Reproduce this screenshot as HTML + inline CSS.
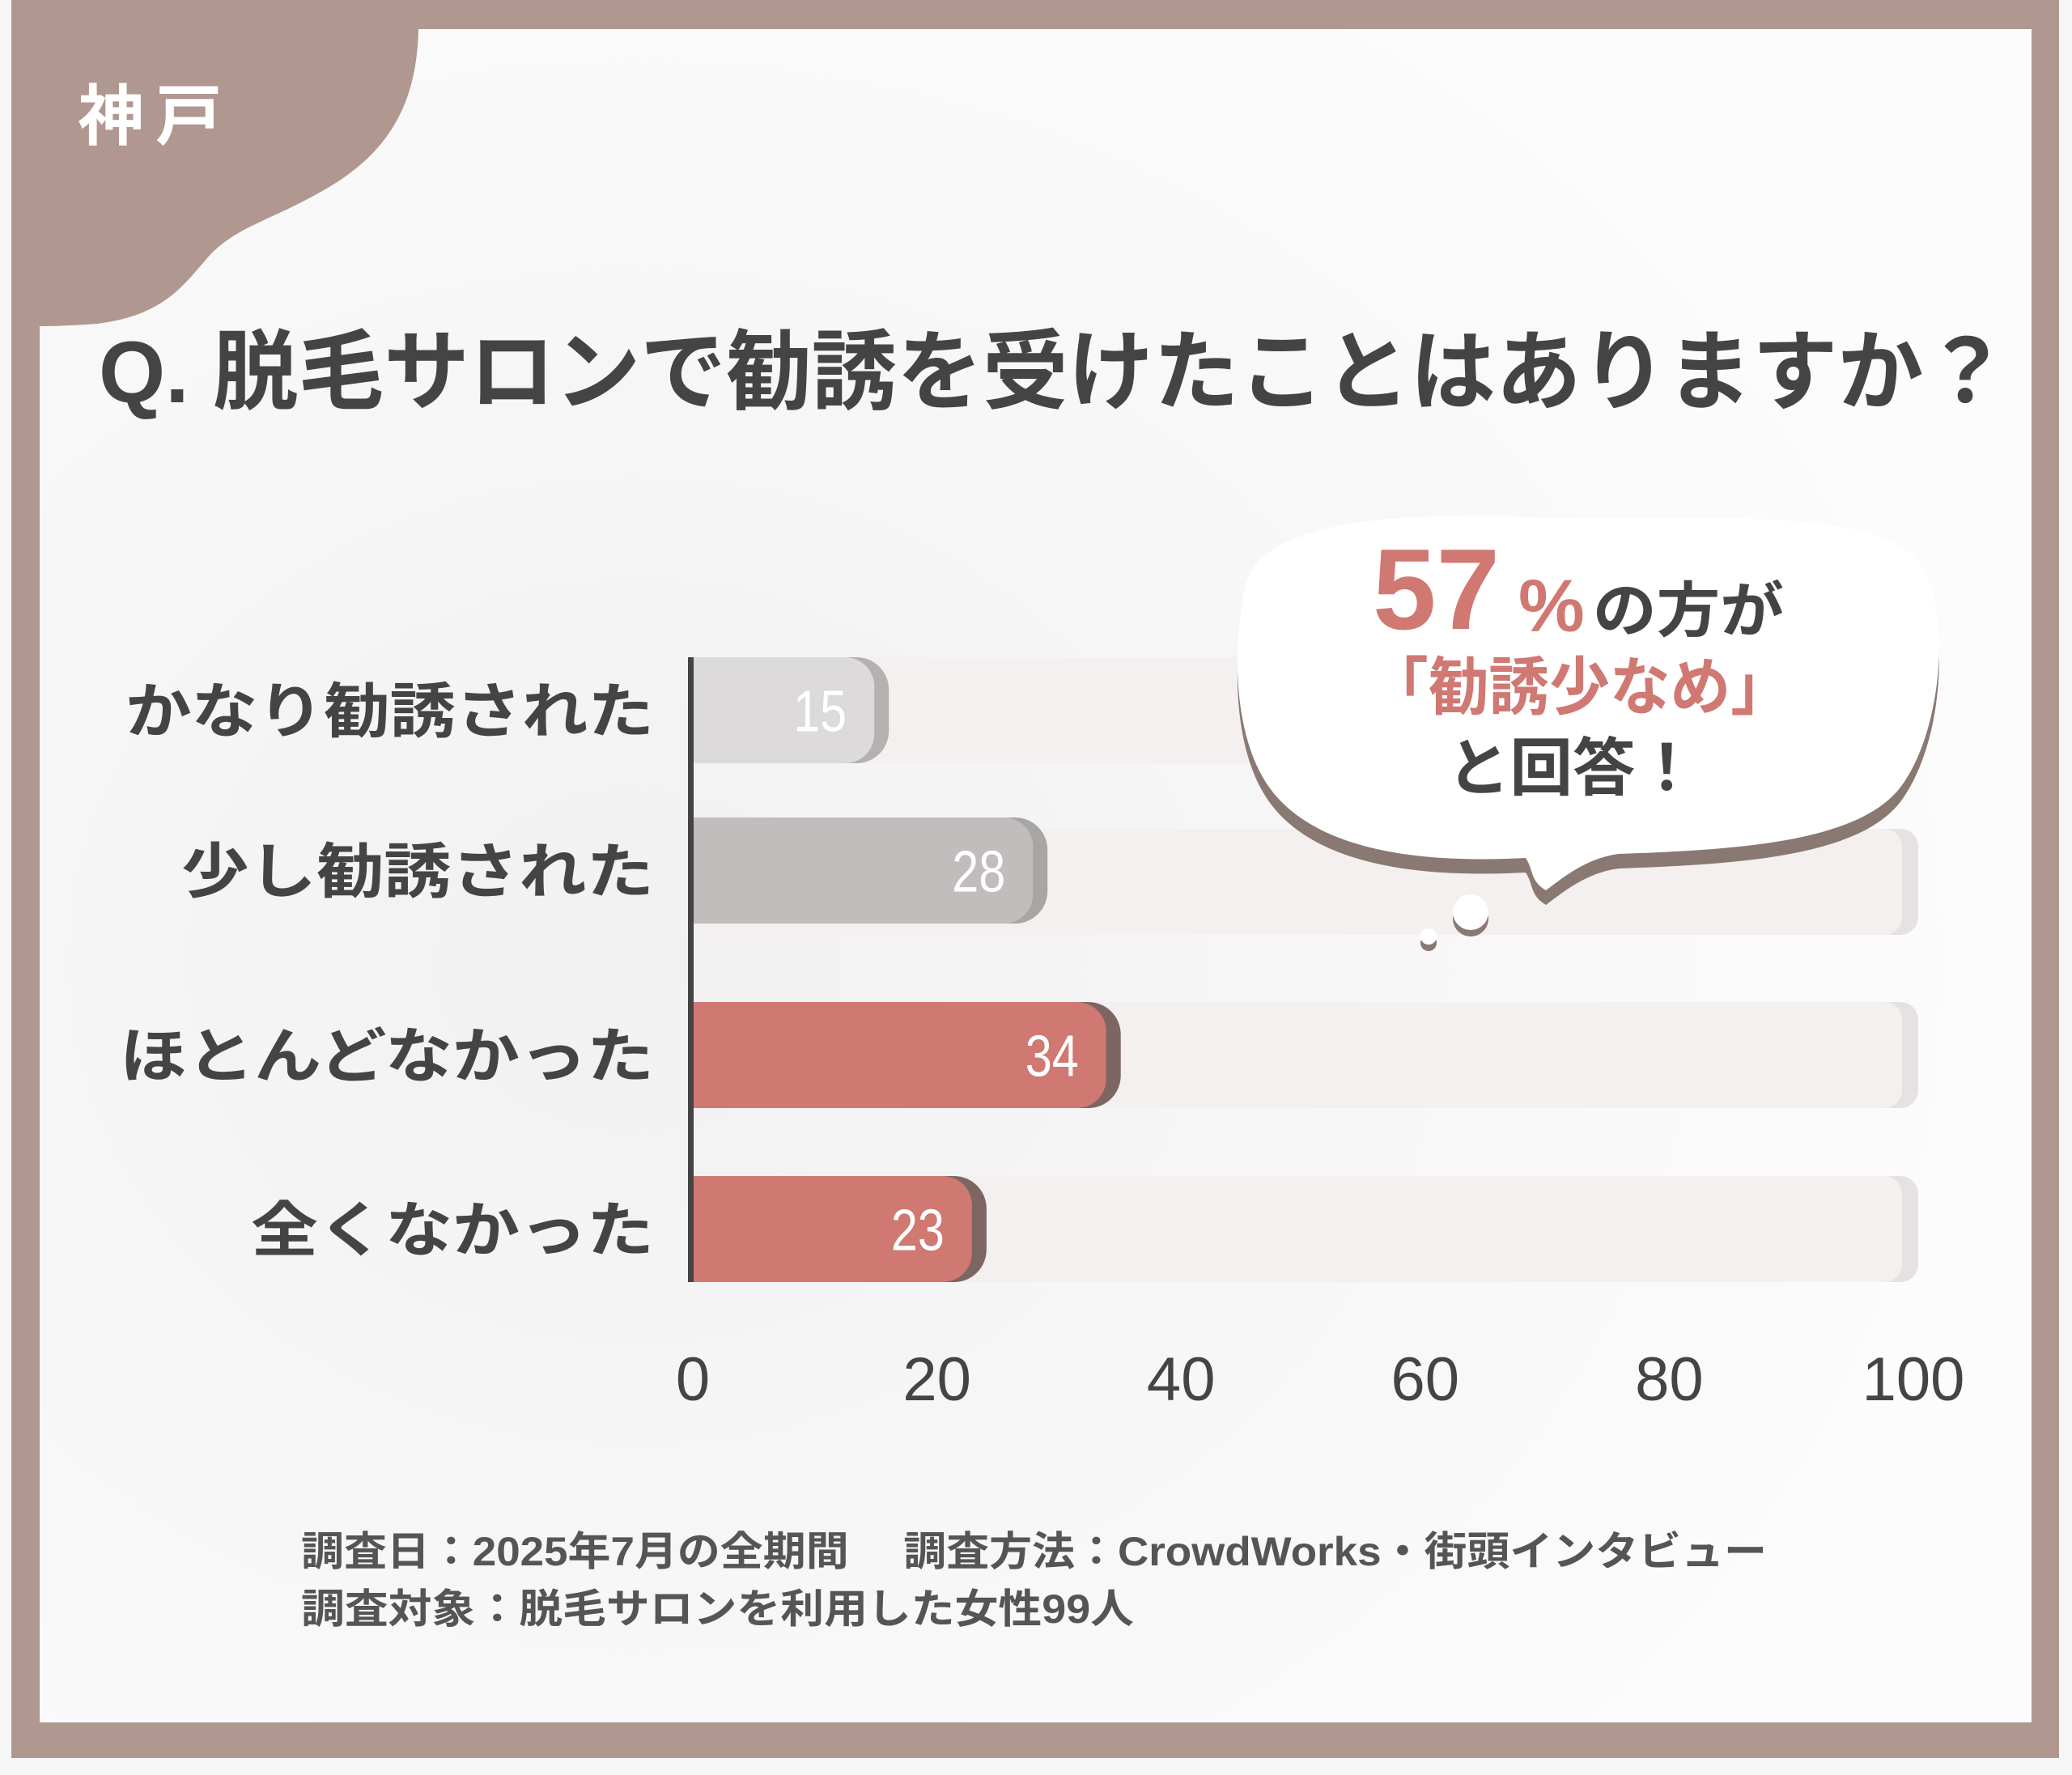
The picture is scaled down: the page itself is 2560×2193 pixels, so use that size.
<!DOCTYPE html>
<html><head><meta charset="utf-8">
<style>
html,body{margin:0;padding:0;background:#fff;}
svg{display:block;}
text{font-family:"Liberation Sans","Noto Sans CJK JP",sans-serif;}
</style></head>
<body>
<svg id="chart" width="2560" height="2193" viewBox="0 0 2560 2193" xmlns="http://www.w3.org/2000/svg">
  <defs>
    <radialGradient id="bgShade" cx="0.3" cy="0.55" r="0.7">
      <stop offset="0" stop-color="#f1f1f1"/>
      <stop offset="1" stop-color="#fcfcfc"/>
    </radialGradient>
  </defs>
  <rect x="0" y="0" width="2560" height="2193" fill="#f6f6f6"/>
  <rect x="14" y="0" width="2530" height="2172" fill="#b09890"/>
  <rect x="49" y="36" width="2461" height="2092" fill="url(#bgShade)"/>
  <path d="M49,36 H517 C515,140 470,195 400,235 C330,275 290,280 255,320 C225,355 200,390 120,400 C90,402 70,403 49,403 Z" fill="#b09890"/>
  <text x="96" y="172" font-size="82" font-weight="bold" fill="#ffffff" letter-spacing="14">神戸</text>
  <text x="122" y="497" font-size="108" font-weight="bold" fill="#444444" textLength="2360" lengthAdjust="spacingAndGlyphs">Q. 脱毛サロンで勧誘を受けたことはありますか？</text>

  <g id="tracks"></g>
  <g id="bars"></g>
  <g id="labels"></g>
  <g id="ticks"></g>
  <rect x="850" y="812" width="7" height="772" fill="#444444"/>

  <g>
    <path d="M1540,720 C1560,650 1700,630 1900,640 C2150,640 2330,630 2375,700 C2410,760 2400,900 2350,970 C2300,1040 2150,1050 2000,1055 C1960,1060 1930,1085 1910,1100 C1890,1088 1895,1075 1885,1060 C1700,1070 1600,1030 1560,960 C1520,890 1525,780 1540,720 Z" fill="#8a7873" transform="translate(0,18)"/>
    <path d="M1540,720 C1560,650 1700,630 1900,640 C2150,640 2330,630 2375,700 C2410,760 2400,900 2350,970 C2300,1040 2150,1050 2000,1055 C1960,1060 1930,1085 1910,1100 C1890,1088 1895,1075 1885,1060 C1700,1070 1600,1030 1560,960 C1520,890 1525,780 1540,720 Z" fill="#ffffff"/>
    <circle cx="1817" cy="1135" r="22" fill="#8a7873"/>
    <circle cx="1817" cy="1127" r="22" fill="#ffffff"/>
    <circle cx="1765" cy="1165" r="10" fill="#8a7873"/>
    <circle cx="1765" cy="1157" r="10" fill="#ffffff"/>
    <text x="1696" y="777" font-size="142" font-weight="bold" fill="#d07872" textLength="157" lengthAdjust="spacingAndGlyphs">57</text>
    <text x="1876" y="780" font-size="92" font-weight="bold" fill="#d07872">%</text>
    <text x="1968" y="780" font-size="74" font-weight="bold" fill="#444444" textLength="236" lengthAdjust="spacingAndGlyphs">の方が</text>
    <text x="1690" y="876" font-size="78" font-weight="bold" fill="#d07872" textLength="523" lengthAdjust="spacingAndGlyphs">「勧誘少なめ」</text>
    <text x="1788" y="976" font-size="78" font-weight="bold" fill="#444444" textLength="310" lengthAdjust="spacingAndGlyphs">と回答！</text>
  </g>

  <text x="372" y="1934" font-size="50" font-weight="bold" fill="#555555" textLength="1811" lengthAdjust="spacingAndGlyphs">調査日：2025年7月の全期間　 調査方法：CrowdWorks・街頭インタビュー</text>
  <text x="372" y="2005" font-size="50" font-weight="bold" fill="#555555" textLength="1029" lengthAdjust="spacingAndGlyphs">調査対象：脱毛サロンを利用した女性99人</text>
</svg>
<script>
const categories = ["かなり勧誘された", "少し勧誘された", "ほとんどなかった", "全くなかった"];
const values = [15, 28, 34, 23];
const tickValues = [0, 20, 40, 60, 80, 100];
const tickLabels = ["0", "20", "40", "60", "80", "100"];

(function(){
  const NS = "http://www.w3.org/2000/svg";
  const x0 = 856, x100 = 2364;
  const xScale = v => x0 + (x100 - x0) * v / 100;
  const rowTop = [812, 1010, 1238, 1453];
  const rowH = 131;
  const labelLen = [653, 584, 660, 498];
  const fills = ["#dcdadb", "#c0bdbc", "#d07872", "#d07872"];
  const shades = ["#b5b1b1", "#a8a6a5", "#7d6662", "#7d6662"];
  const tracks = document.getElementById("tracks");
  const bars = document.getElementById("bars");
  const labels = document.getElementById("labels");
  const ticks = document.getElementById("ticks");
  function mk(tag, attrs){ const e = document.createElementNS(NS, tag); for (const k in attrs) e.setAttribute(k, attrs[k]); return e; }
  categories.forEach((c, i) => {
    const y = rowTop[i];
    const tr = mk("rect", {x: x0, y: y + (i===1?14:0), width: xScale(100) + 6 - x0, height: rowH, rx: 22, fill: "#e6e2e1"});
    
    
    tracks.appendChild(tr);
    const t = mk("rect", {x: x0, y: y + (i===1?14:0), width: xScale(100) - 14 - x0, height: rowH, rx: 22, fill: "#f3f0ef"});
    
    
    tracks.appendChild(t);
    const end = xScale(values[i]) + 16;
    const sh = mk("rect", {x: x0, y: y, width: end - x0, height: rowH, rx: 40, fill: shades[i]});
    
    
    bars.appendChild(sh);
    const b = mk("rect", {x: x0, y: y, width: end - x0 - 18, height: rowH, rx: 36, fill: fills[i]});
    
    
    bars.appendChild(b);
    const sq = mk("rect", {x: x0, y: y, width: 60, height: rowH, fill: fills[i]});
    bars.appendChild(sq);
    const vt = mk("text", {x: end - 52, y: y + rowH/2 + 26, "font-size": 72, fill: "#ffffff", "text-anchor": "end", textLength: 66, lengthAdjust: "spacingAndGlyphs"});
    vt.textContent = values[i];
    
    
    bars.appendChild(vt);
    const lt = mk("text", {x: 808 - labelLen[i], y: y + rowH/2 + 27, "font-size": 74, "font-weight": "bold", fill: "#444444", textLength: labelLen[i], lengthAdjust: "spacingAndGlyphs"});
    lt.textContent = c;
    
    
    labels.appendChild(lt);
  });
  tickValues.forEach((v, i) => {
    const tt = mk("text", {x: xScale(v), y: 1730, "font-size": 76, fill: "#444444", "text-anchor": "middle"});
    tt.textContent = tickLabels[i];
    
    
    ticks.appendChild(tt);
  });
})();
</script>
</body></html>
